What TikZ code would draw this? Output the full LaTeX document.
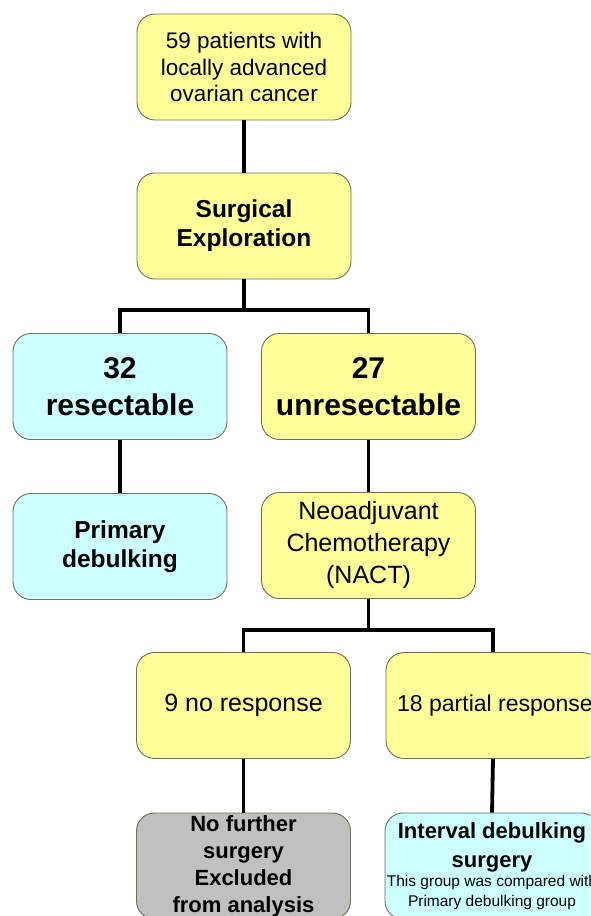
\documentclass[tikz,border=0pt]{standalone}
\usepackage{fontspec}
\setmainfont{Liberation Sans}
\definecolor{boxyellow}{RGB}{255,255,153}
\definecolor{boxcyan}{RGB}{204,255,255}
\definecolor{boxgray}{RGB}{192,192,192}
\definecolor{boxline}{RGB}{110,110,90}
\begin{document}
\begin{tikzpicture}[x=1pt,y=-1pt,
  flowbox/.style={rectangle, rounded corners=18pt, draw=boxline, line width=0.9pt,
    minimum width=214pt, minimum height=106pt, align=center, inner sep=0pt},
  yel/.style={flowbox, fill=boxyellow},
  cya/.style={flowbox, fill=boxcyan},
  gry/.style={flowbox, fill=boxgray},
  conn/.style={line width=3.8pt, black},
  regtxt/.style={font=\fontsize{22.5}{26.5}\selectfont},
  boldtxt/.style={font=\fontsize{24.5}{29}\selectfont\bfseries},
  bigtxt/.style={font=\fontsize{30}{37}\selectfont\bfseries},
  midtxt/.style={font=\fontsize{25}{32}\selectfont},
  partxt/.style={font=\fontsize{23}{30}\selectfont},
  smbold/.style={font=\fontsize{22}{27}\selectfont\bfseries},
  smreg/.style={font=\fontsize{15.5}{20}\selectfont}]
\clip (0,0) rectangle (590,916);
\fill[white] (0,0) rectangle (590,916);

\node[yel, regtxt] (A) at (244,67) {59 patients with\\locally advanced\\ovarian cancer};
\node[yel, boldtxt] (B) at (244,226) {Surgical\\Exploration};
\node[cya, bigtxt] (C) at (120,386.5) {32\\resectable};
\node[yel, bigtxt] (D) at (368.5,386.5) {27\\unresectable};
\node[cya, boldtxt] (E) at (120,546.5) {Primary\\debulking};
\node[yel, midtxt] (F) at (368.5,545.5) {Neoadjuvant\\Chemotherapy\\(NACT)};
\node[yel, midtxt] (G) at (243.5,705.5) {9 no response};
\node[yel, partxt] (H) at (493,705.5) {\hspace*{4pt}18 partial response};
\node[gry, smbold] (I) at (243.5,866) {No further\\surgery\\Excluded\\from analysis};
\node[cya, smreg] (J) at (492,866) {\fontsize{22}{29}\selectfont\bfseries Interval debulking\\[9pt]
  \fontsize{22}{29}\selectfont\bfseries surgery\\[-1pt]
  This group was compared with\\
  Primary debulking group};

\coordinate (jB) at (244,310);
\coordinate (jF) at (368.5,630);

\draw[conn] (A.south) -- (B.north);
\draw[conn] (B.south) -- (jB);
\draw[conn] (C.north) |- (jB) -| (D.north);
\draw[conn] (C.south) -- (E.north);
\draw[conn] (D.south) -- (F.north);
\draw[conn] (F.south) -- (jF);
\draw[conn] (G.north) |- (jF) -| (H.north);
\draw[conn] (G.south) -- (I.north);
\draw[conn] (H.south) -- (J.north);
\end{tikzpicture}
\end{document}
